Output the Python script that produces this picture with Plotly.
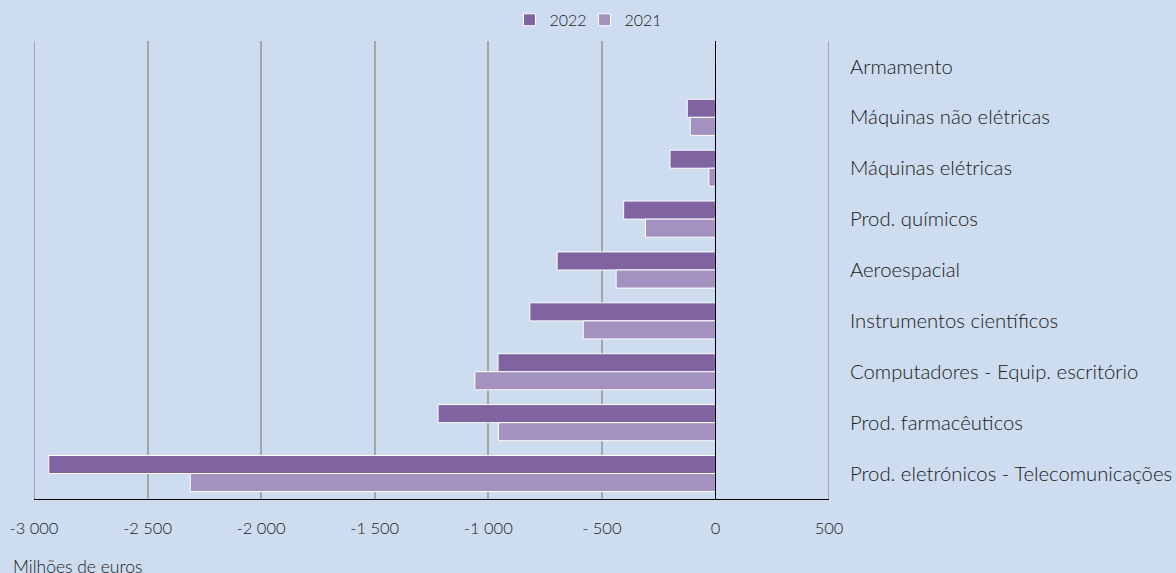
import plotly.graph_objects as go

categories = [
    "Armamento",
    "Máquinas não elétricas",
    "Máquinas elétricas",
    "Prod. químicos",
    "Aeroespacial",
    "Instrumentos científicos",
    "Computadores - Equip. escritório",
    "Prod. farmacêuticos",
    "Prod. eletrónicos - Telecomunicações",
]
values_2022 = [2, -124, -200, -404, -697, -817, -957, -1221, -2935]
values_2021 = [1, -111, -29, -308, -437, -582, -1059, -955, -2312]

tick_vals = [-3000, -2500, -2000, -1500, -1000, -500, 0, 500]
tick_text = ["-3 000", "-2 500", "-2 000", "-1 500", "-1 000", "- 500", "0", "500"]

BG = "#CDDCEE"
TEXT = "#1A1A1A"
FONT = "Lato"
GRID = "#A6A6A6"

fig = go.Figure()
fig.add_trace(go.Bar(
    y=categories, x=values_2022, name="2022", orientation="h",
    marker=dict(color="#8064A2", line=dict(color="white", width=1)),
))
fig.add_trace(go.Bar(
    y=categories, x=values_2021, name="2021", orientation="h",
    marker=dict(color="#A391BF", line=dict(color="white", width=1)),
))

# gridlines at both ends of the value axis (plotly omits edge gridlines)
for xv in (tick_vals[0], tick_vals[-1]):
    fig.add_shape(type="line", xref="x", yref="paper", x0=xv, x1=xv, y0=0, y1=1,
                  line=dict(color=GRID, width=2), layer="below")

fig.update_layout(
    width=1176, height=573,
    paper_bgcolor=BG, plot_bgcolor=BG,
    margin=dict(l=34, r=347, t=41, b=74, autoexpand=False),
    barmode="group", bargap=0.29, bargroupgap=0.0,
    font=dict(family=FONT, color=TEXT, size=14, weight=300),
    legend=dict(
        orientation="h", x=0.497, xanchor="center", xref="container",
        y=0.995, yanchor="top", yref="container",
        font=dict(size=16, color=TEXT, weight=300),
        bgcolor="rgba(0,0,0,0)", traceorder="normal",
        itemwidth=30, entrywidth=30, entrywidthmode="pixels",
    ),
    xaxis=dict(
        range=[-3000, 500], tickvals=tick_vals, ticktext=tick_text,
        showgrid=True, gridcolor=GRID, gridwidth=2,
        zeroline=True, zerolinecolor="black", zerolinewidth=1,
        zerolinelayer="above traces",
        showline=True, linecolor="black", linewidth=1,
        ticks="", ticklabelstandoff=14,
        tickfont=dict(size=16.5, color=TEXT, weight=300),
    ),
    yaxis=dict(
        autorange="reversed", side="right", showgrid=False,
        ticks="", ticklabelstandoff=20, showline=False,
        tickfont=dict(size=20.3, color=TEXT, weight=300),
    ),
    annotations=[dict(
        text="Milhões de euros", x=0, xref="paper", xanchor="left", xshift=-23,
        y=0, yref="paper", yanchor="top", yshift=-55,
        showarrow=False, font=dict(size=17.5, color=TEXT, weight=300),
    )],
)

fig.write_html("out.html")
